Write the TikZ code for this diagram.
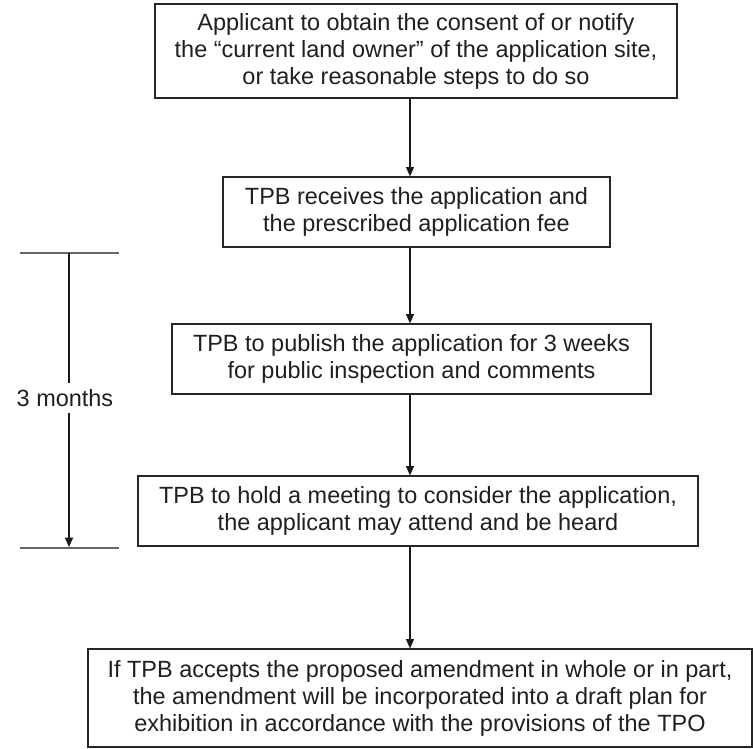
\documentclass[tikz,border=0pt]{standalone}
\usepackage{fontspec}
\setmainfont{Liberation Sans}
\usetikzlibrary{arrows.meta}
\begin{document}
\begin{tikzpicture}[x=0.75pt,y=-0.75pt,
  txt/.style={font=\fontsize{17.6pt}{20.3pt}\selectfont,text=black!88},
  box/.style={txt,draw=black!85,line width=0.9pt,align=center,inner sep=0pt},
  arr/.style={draw=black!90,line width=0.8pt,-{Triangle[length=7pt,width=6pt]}},
  tick/.style={draw=black!60,line width=1.2pt}]
\useasboundingbox (0,0) rectangle (753,749);
\node[box,minimum width=522*0.75pt,minimum height=94*0.75pt] (b1) at (416,51)
  {Applicant to obtain the consent of or notify\\the “current land owner” of the application site,\\or take reasonable steps to do so};
\node[box,minimum width=387*0.75pt,minimum height=70*0.75pt] (b2) at (416.5,212)
  {TPB receives the application and\\the prescribed application fee};
\node[box,minimum width=479*0.75pt,minimum height=70*0.75pt] (b3) at (411.5,359)
  {TPB to publish the application for 3 weeks\\for public inspection and comments};
\node[box,minimum width=560*0.75pt,minimum height=70*0.75pt] (b4) at (418,511)
  {TPB to hold a meeting to consider the application,\\the applicant may attend and be heard};
\node[box,minimum width=664*0.75pt,minimum height=98*0.75pt] (b5) at (420,698)
  {If TPB accepts the proposed amendment in whole or in part,\\the amendment will be incorporated into a draft plan for\\exhibition in accordance with the provisions of the TPO};
\coordinate (ax) at (410,0);
\draw[arr] (b1.south -| ax) -- (b2.north -| ax);
\draw[arr] (b2.south -| ax) -- (b3.north -| ax);
\draw[arr] (b3.south -| ax) -- (b4.north -| ax);
\draw[arr] (b4.south -| ax) -- (b5.north -| ax);
% bracket
\coordinate (tl) at (20,253);
\coordinate (tr) at (119,253);
\coordinate (bl) at (20,548);
\coordinate (br) at (119,548);
\draw[tick] (tl) -- (tr);
\draw[tick] (bl) -- (br);
\coordinate (vt) at (69,253);
\coordinate (vb) at (69,547);
\node[txt,inner sep=0pt,minimum height=30*0.75pt] (lab) at (65,398) {3 months};
\draw[draw=black!90,line width=0.8pt] (vt) -- (lab.north -| vt);
\draw[arr] (lab.south -| vt) -- (vb);
\end{tikzpicture}
\end{document}
